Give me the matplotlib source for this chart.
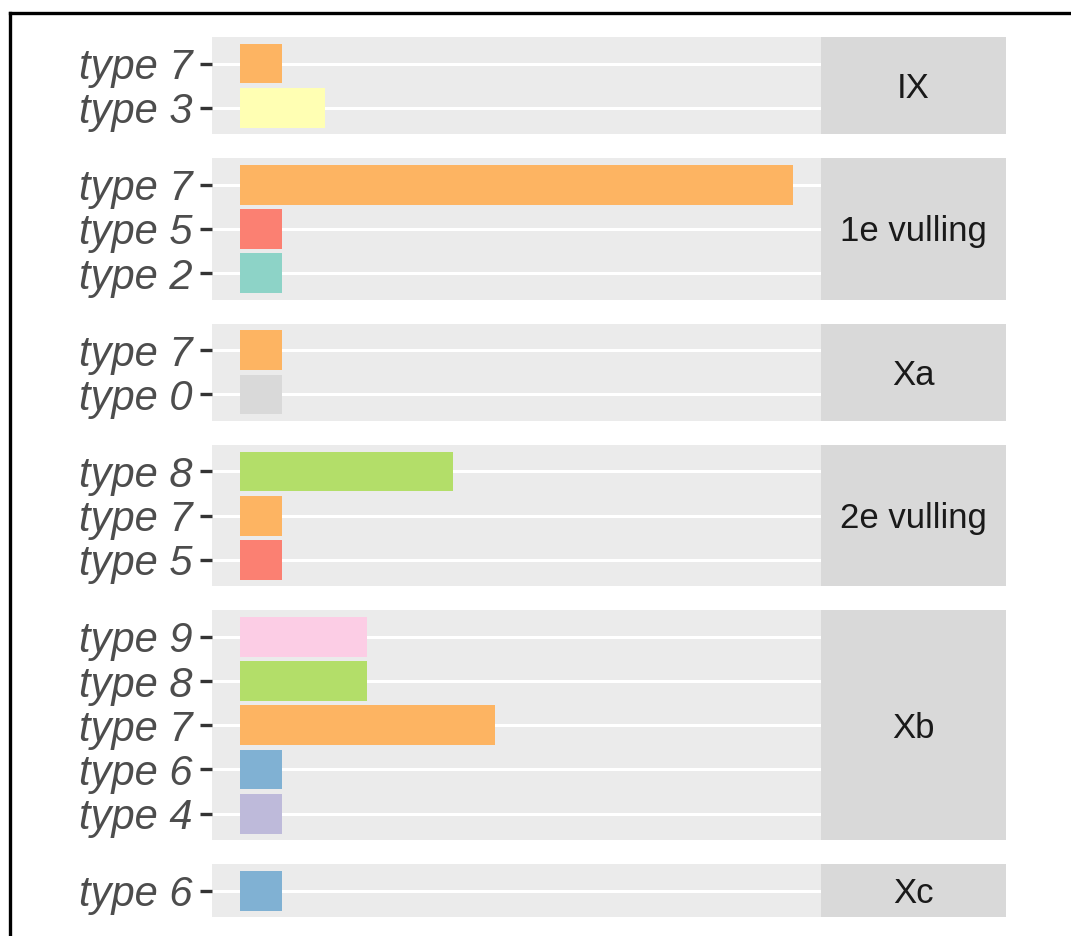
import matplotlib.pyplot as plt
from matplotlib.lines import Line2D

# panels, top to bottom; categories listed top to bottom within each panel
panels = ["IX", "1e vulling", "Xa", "2e vulling", "Xb", "Xc"]
types_ix = ["type 7", "type 3"]
counts_ix = [1, 2]
types_1e = ["type 7", "type 5", "type 2"]
counts_1e = [13, 1, 1]
types_xa = ["type 7", "type 0"]
counts_xa = [1, 1]
types_2e = ["type 8", "type 7", "type 5"]
counts_2e = [5, 1, 1]
types_xb = ["type 9", "type 8", "type 7", "type 6", "type 4"]
counts_xb = [3, 3, 6, 1, 1]
types_xc = ["type 6"]
counts_xc = [1]

all_types = [types_ix, types_1e, types_xa, types_2e, types_xb, types_xc]
all_counts = [counts_ix, counts_1e, counts_xa, counts_2e, counts_xb, counts_xc]

# Set3 palette
type_colors = {
    "type 0": "#D9D9D9", "type 2": "#8DD3C7", "type 3": "#FFFFB3",
    "type 4": "#BEBADA", "type 5": "#FB8072", "type 6": "#80B1D3",
    "type 7": "#FDB462", "type 8": "#B3DE69", "type 9": "#FCCDE5",
}

W, H = 1071, 936
fig = plt.figure(figsize=(W / 100, H / 100), dpi=100)
plt.rcParams['font.family'] = ['Liberation Sans', 'DejaVu Sans']

x_left, x_right, strip_right = 212, 821, 1006
top, gap, unit = 37, 24, 44.2
xmax = max(max(c) for c in all_counts)
pad = 0.05 * xmax

y = top
for name, types, counts in zip(panels, all_types, all_counts):
    n = len(types)
    h = (n - 1 + 1.2) * unit
    ax = fig.add_axes([x_left / W, 1 - (y + h) / H, (x_right - x_left) / W, h / H])
    ax.set_facecolor("#EBEBEB")
    pos = list(range(n))[::-1]
    ax.barh(pos, counts, height=0.9, color=[type_colors[t] for t in types], zorder=3)
    ax.set_xlim(-pad, xmax + pad)
    ax.set_ylim(-0.6, n - 1 + 0.6)
    ax.set_yticks(pos)
    ax.set_yticklabels(types, fontsize=30, style="italic", color="#4D4D4D")
    ax.set_xticks([])
    ax.tick_params(axis="y", length=9, width=2.4, color="#333333", pad=5)
    ax.grid(axis="y", color="white", linewidth=2.2, zorder=1)
    for s in ax.spines.values():
        s.set_visible(False)

    sax = fig.add_axes([x_right / W, 1 - (y + h) / H, (strip_right - x_right) / W, h / H])
    sax.set_facecolor("#D9D9D9")
    sax.set_xticks([])
    sax.set_yticks([])
    for s in sax.spines.values():
        s.set_visible(False)
    sax.text(0.5, 0.5 - 3 / h, name, ha="center", va="center", fontsize=25, color="#1A1A1A",
             transform=sax.transAxes)
    y += h + gap

# outer frame (top and left edges only visible)
fig.add_artist(Line2D([10 / W, 1], [1 - 13 / H, 1 - 13 / H], color="black", linewidth=2.4,
                      transform=fig.transFigure))
fig.add_artist(Line2D([10 / W, 10 / W], [0, 1 - 13 / H], color="black", linewidth=2.4,
                      transform=fig.transFigure))

fig.savefig("out.png", dpi=100)
